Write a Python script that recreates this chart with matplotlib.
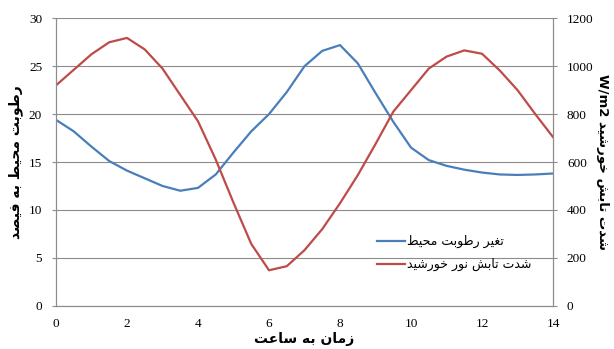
import numpy as np
import matplotlib.pyplot as plt

# hours of the day (every half hour)
hours = [0, 0.5, 1, 1.5, 2, 2.5, 3, 3.5, 4, 4.5, 5, 5.5, 6, 6.5, 7,
         7.5, 8, 8.5, 9, 9.5, 10, 10.5, 11, 11.5, 12, 12.5, 13, 13.5, 14]

# relative humidity (%) - left axis
humidity = [19.4, 18.2, 16.6, 15.1, 14.1, 13.3, 12.5, 12.0, 12.3, 13.7, 16.0,
            18.2, 20.0, 22.3, 25.0, 26.6, 27.2, 25.3, 22.2, 19.2, 16.5, 15.2,
            14.6, 14.2, 13.9, 13.7, 13.65, 13.7, 13.8]

# solar irradiance (W/m2) - right axis
irradiance = [920, 985, 1050, 1100, 1118, 1070, 990, 880, 770, 610, 430,
              258, 148, 165, 232, 320, 428, 545, 675, 810, 900, 990,
              1040, 1066, 1052, 982, 900, 800, 704]

x_ticks = [0, 2, 4, 6, 8, 10, 12, 14]
left_ticks = [0, 5, 10, 15, 20, 25, 30]
right_ticks = [0, 200, 400, 600, 800, 1000, 1200]

humidity_label = 'تغیر رطوبت محیط'
irradiance_label = 'شدت تابش نور خورشید'
x_label = 'زمان به ساعت'
left_label = 'رطوبت محیط به فیصد'
right_label = 'شدت تابش خورشید'


# matplotlib has no arabic shaping, so pick presentation forms by hand
FORMS = {
    'ا': (0xFE8D, 0xFE8E),
    'ب': (0xFE8F, 0xFE90, 0xFE91, 0xFE92),
    'ت': (0xFE95, 0xFE96, 0xFE97, 0xFE98),
    'ح': (0xFEA1, 0xFEA2, 0xFEA3, 0xFEA4),
    'خ': (0xFEA5, 0xFEA6, 0xFEA7, 0xFEA8),
    'د': (0xFEA9, 0xFEAA),
    'ر': (0xFEAD, 0xFEAE),
    'ز': (0xFEAF, 0xFEB0),
    'س': (0xFEB1, 0xFEB2, 0xFEB3, 0xFEB4),
    'ش': (0xFEB5, 0xFEB6, 0xFEB7, 0xFEB8),
    'ص': (0xFEB9, 0xFEBA, 0xFEBB, 0xFEBC),
    'ط': (0xFEC1, 0xFEC2, 0xFEC3, 0xFEC4),
    'ع': (0xFEC9, 0xFECA, 0xFECB, 0xFECC),
    'غ': (0xFECD, 0xFECE, 0xFECF, 0xFED0),
    'ف': (0xFED1, 0xFED2, 0xFED3, 0xFED4),
    'م': (0xFEE1, 0xFEE2, 0xFEE3, 0xFEE4),
    'ن': (0xFEE5, 0xFEE6, 0xFEE7, 0xFEE8),
    'ه': (0xFEE9, 0xFEEA, 0xFEEB, 0xFEEC),
    'و': (0xFEED, 0xFEEE),
    'ی': (0xFBFC, 0xFBFD, 0xFBFE, 0xFBFF),
}


def shape(s):
    out = []
    for i, ch in enumerate(s):
        f = FORMS.get(ch)
        if f is None:
            out.append(ch)
            continue
        prev = s[i - 1] if i > 0 else ''
        nxt = s[i + 1] if i + 1 < len(s) else ''
        jp = prev in FORMS and len(FORMS[prev]) == 4
        jn = len(f) == 4 and nxt in FORMS
        if jp and jn:
            c = f[3]
        elif jp:
            c = f[1]
        elif jn:
            c = f[2]
        else:
            c = f[0]
        out.append(chr(c))
    return ''.join(reversed(out))


plt.rcParams['font.family'] = ['Liberation Serif', 'DejaVu Sans']
fa = ['DejaVu Sans']

fig = plt.figure(figsize=(6.14, 3.49), dpi=100)
ax = fig.add_axes([0.0912, 0.124, 0.8095, 0.8236])
ax2 = ax.twinx()

ax.plot(hours, humidity, color='#4a7ebb', lw=1.6, label=shape(humidity_label))
ax2.plot(hours, irradiance, color='#be4b48', lw=1.6, label=shape(irradiance_label))

ax.set_xlim(0, 14)
ax.set_ylim(0, 30)
ax2.set_ylim(0, 1200)
ax.set_xticks(x_ticks)
ax.set_yticks(left_ticks)
ax2.set_yticks(right_ticks)

ax.grid(axis='y', color='#8c8c8c', lw=0.8)
ax.set_axisbelow(True)
for a in (ax, ax2):
    a.spines['top'].set_visible(False)
    for s in ('left', 'right', 'bottom'):
        a.spines[s].set_color('#8c8c8c')
ax.tick_params(axis='x', length=0, pad=9, labelsize=9.5)
ax.tick_params(axis='y', length=3, color='#8c8c8c', pad=7, labelsize=9.5)
ax2.tick_params(axis='y', length=3, color='#8c8c8c', pad=7, labelsize=9.5)

ax.set_xlabel(shape(x_label), family=fa, fontweight='bold', fontsize=10, labelpad=1)
ax.set_ylabel(shape(left_label), family=fa, fontweight='bold', fontsize=10, labelpad=4)
ax2.set_ylabel('W/m2 ' + shape(right_label), family=fa, fontweight='bold',
               fontsize=9.5, rotation=270, labelpad=11)

h1, l1 = ax.get_legend_handles_labels()
h2, l2 = ax2.get_legend_handles_labels()
ax2.legend(h1 + h2, l1 + l2, loc='lower right', bbox_to_anchor=(0.98, 0.08),
           frameon=False, prop={'family': fa, 'size': 9}, handlelength=2.2,
           handletextpad=0.2, labelspacing=0.8)

fig.savefig('out.png', dpi=100)
